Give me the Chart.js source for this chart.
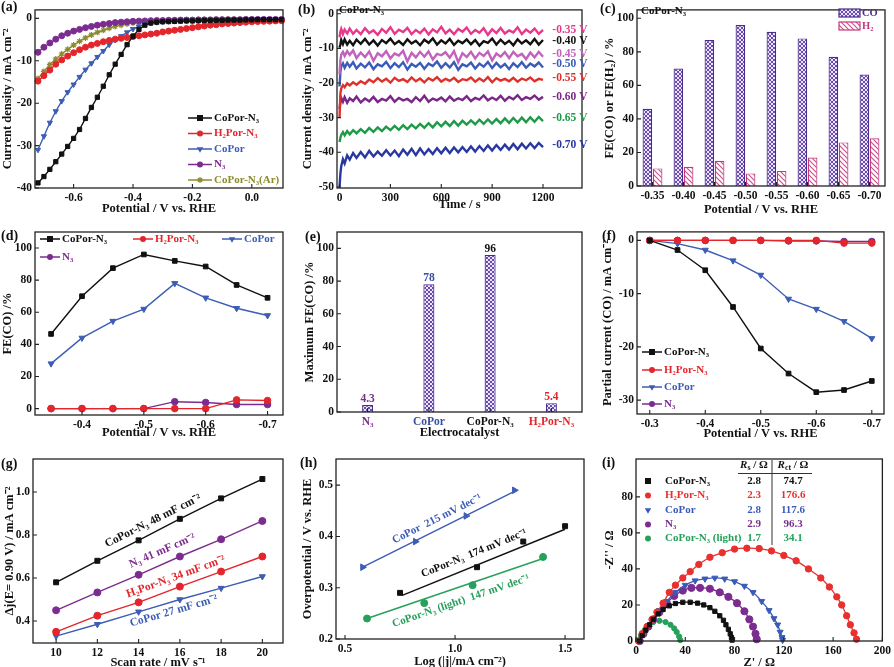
<!DOCTYPE html>
<html><head><meta charset="utf-8">
<script src="https://cdn.jsdelivr.net/npm/chart.js"></script>
<style>
html,body{margin:0;padding:0;background:#fff;}
body{width:894px;height:667px;overflow:hidden;position:relative;}
canvas{position:absolute;}
.pl{position:absolute;font:bold 14px 'Liberation Serif','Times New Roman',serif;color:#111;line-height:1;}
</style></head><body>
<canvas id="ca"></canvas><canvas id="cb"></canvas><canvas id="cc"></canvas>
<canvas id="cd"></canvas><canvas id="ce"></canvas><canvas id="cf"></canvas>
<canvas id="cg"></canvas><canvas id="ch"></canvas><canvas id="ci"></canvas>
<div class="pl" style="left:1px;top:0px">(a)</div>
<div class="pl" style="left:298px;top:3px">(b)</div>
<div class="pl" style="left:600px;top:2px">(c)</div>
<div class="pl" style="left:1px;top:229px">(d)</div>
<div class="pl" style="left:305px;top:230px">(e)</div>
<div class="pl" style="left:602px;top:229px">(f)</div>
<div class="pl" style="left:1px;top:457px">(g)</div>
<div class="pl" style="left:300px;top:456px">(h)</div>
<div class="pl" style="left:602px;top:456px">(i)</div>
<script>
// ======================= DATA =======================
// (a) LSV curves
const aPotential = [-0.72,-0.70,-0.68,-0.66,-0.64,-0.62,-0.60,-0.58,-0.56,-0.54,-0.52,-0.50,-0.48,-0.46,-0.44,-0.42,-0.40,-0.38,-0.36,-0.34,-0.32,-0.30,-0.28,-0.26,-0.24,-0.22,-0.20,-0.18,-0.16,-0.14,-0.12,-0.10,-0.08,-0.06,-0.04,-0.02,0.00,0.02,0.04,0.06,0.08,0.10];
const aCoPorN3 = [-38.8,-37.3,-35.6,-33.8,-32.0,-30.2,-28.3,-26.2,-23.6,-21.0,-18.6,-16.0,-13.3,-10.8,-8.5,-6.2,-4.2,-2.6,-1.6,-1.1,-0.9,-0.8,-0.75,-0.7,-0.65,-0.6,-0.6,-0.55,-0.5,-0.5,-0.45,-0.45,-0.4,-0.4,-0.4,-0.35,-0.35,-0.3,-0.3,-0.3,-0.3,-0.3];
const aH2PorN3 = [-14.8,-13.5,-12.2,-10.8,-9.8,-8.9,-8.1,-7.4,-6.8,-6.3,-5.9,-5.5,-5.2,-4.9,-4.7,-4.5,-4.3,-4.1,-3.9,-3.7,-3.5,-3.2,-3.0,-2.8,-2.6,-2.4,-2.2,-2.0,-1.8,-1.6,-1.5,-1.3,-1.2,-1.1,-1.0,-0.9,-0.8,-0.75,-0.7,-0.65,-0.6,-0.55];
const aCoPor = [-31.0,-27.8,-24.6,-21.9,-19.5,-17.4,-15.6,-13.8,-12.1,-10.6,-9.1,-7.7,-6.2,-5.1,-4.2,-3.3,-2.5,-1.9,-1.4,-1.1,-0.9,-0.8,-0.7,-0.65,-0.6,-0.55,-0.5,-0.5,-0.45,-0.45,-0.4,-0.4,-0.4,-0.35,-0.35,-0.35,-0.3,-0.3,-0.3,-0.3,-0.3,-0.3];
const aN3 = [-8.0,-6.8,-5.8,-4.9,-4.1,-3.5,-3.0,-2.6,-2.2,-1.9,-1.6,-1.4,-1.2,-1.0,-0.9,-0.8,-0.7,-0.65,-0.6,-0.55,-0.5,-0.5,-0.45,-0.45,-0.4,-0.4,-0.4,-0.35,-0.35,-0.35,-0.3,-0.3,-0.3,-0.3,-0.3,-0.25,-0.25,-0.25,-0.25,-0.25,-0.25,-0.25];
const aCoPorN3Ar = [-14.2,-12.5,-10.9,-9.6,-8.4,-7.3,-6.3,-5.4,-4.6,-3.9,-3.3,-2.8,-2.3,-1.9,-1.6,-1.3,-1.1,-0.9,-0.8,-0.7,-0.65,-0.6,-0.55,-0.5,-0.5,-0.45,-0.45,-0.4,-0.4,-0.4,-0.35,-0.35,-0.35,-0.3,-0.3,-0.3,-0.3,-0.3,-0.3,-0.3,-0.3,-0.3];
const aXTicks = [-0.6,-0.4,-0.2,0.0], aXLabels = ['-0.6','-0.4','-0.2','0.0'];
const aYTicks = [0,-10,-20,-30,-40], aYLabels = ['0','-10','-20','-30','-40'];

// (b) chronoamperometry of CoPor-N3
const bTime = [0,5,10,20,30,45,60,80,100,125,150,175,200,225,250,275,300,325,350,375,400,425,450,475,500,525,550,575,600,625,650,675,700,725,750,775,800,825,850,875,900,925,950,975,1000,1025,1050,1075,1100,1125,1150,1175,1200];
const bLabels = ['-0.35 V','-0.40 V','-0.45 V','-0.50 V','-0.55 V','-0.60 V','-0.65 V','-0.70 V'];
const bP35 = [-6.8,-5.2,-4.4,-5.9,-4.6,-5.7,-4.3,-5.8,-4.7,-5.9,-4.2,-5.6,-4.8,-6.1,-4.4,-5.5,-3.9,-5.8,-4.6,-5.3,-4.1,-5.9,-4.7,-5.6,-4.3,-6.0,-4.5,-5.4,-3.8,-5.7,-4.6,-5.9,-4.4,-5.2,-4.0,-5.8,-4.7,-5.5,-4.2,-6.1,-4.5,-5.6,-4.1,-5.7,-4.8,-5.4,-3.9,-5.9,-4.6,-5.5,-4.3,-5.8,-4.7];
const bP40 = [-9.8,-8.9,-7.6,-8.8,-7.4,-8.9,-7.8,-9.1,-7.5,-8.7,-7.3,-8.9,-7.7,-9.2,-7.6,-8.5,-7.2,-8.8,-7.9,-9.0,-7.4,-8.6,-7.8,-9.1,-7.5,-8.4,-7.1,-8.9,-7.7,-8.6,-7.3,-9.0,-7.8,-8.5,-7.4,-8.8,-7.6,-9.2,-7.9,-8.4,-7.2,-8.9,-7.5,-8.7,-7.8,-9.1,-7.4,-8.6,-7.7,-8.8,-7.3,-8.9,-7.6];
const bP45 = [-17.5,-13.5,-11.8,-11.0,-12.2,-10.8,-11.9,-10.6,-12.8,-11.2,-12.5,-10.9,-13.6,-11.4,-12.3,-10.8,-12.9,-11.5,-12.1,-10.7,-13.8,-11.3,-12.6,-11.0,-12.4,-10.9,-13.2,-11.6,-12.0,-11.1,-12.7,-10.8,-14.0,-11.4,-12.5,-11.0,-12.9,-11.3,-12.2,-10.9,-13.5,-11.5,-12.4,-11.1,-12.8,-11.0,-12.3,-11.6,-13.1,-11.2,-12.6,-11.0,-12.4];
const bP50 = [-21.0,-16.8,-15.2,-14.3,-15.6,-14.2,-15.3,-14.0,-15.8,-14.4,-15.5,-14.1,-16.0,-14.6,-15.2,-13.9,-15.7,-14.3,-15.4,-14.0,-16.1,-14.5,-15.3,-14.2,-15.9,-14.4,-15.1,-13.8,-15.6,-14.3,-15.5,-14.0,-16.2,-14.6,-15.2,-14.1,-15.8,-14.4,-15.3,-13.9,-15.7,-14.2,-15.5,-14.5,-16.0,-14.3,-15.4,-14.0,-15.6,-14.4,-15.2,-14.1,-15.5];
const bP55 = [-30.0,-23.0,-21.6,-20.6,-21.2,-20.1,-20.7,-19.8,-20.5,-19.5,-20.2,-19.0,-19.8,-18.6,-19.6,-18.8,-19.9,-18.5,-19.4,-18.9,-19.7,-18.4,-19.5,-18.7,-19.8,-18.6,-19.3,-18.3,-19.6,-18.8,-19.4,-18.5,-19.7,-18.9,-19.2,-18.4,-19.6,-18.7,-19.5,-18.3,-19.8,-18.6,-19.3,-18.8,-19.5,-18.5,-19.6,-18.7,-19.2,-18.4,-19.5,-18.8,-19.1];
const bP60 = [-27.5,-25.6,-24.3,-25.4,-24.1,-25.7,-24.4,-25.2,-23.9,-25.6,-24.5,-25.3,-24.0,-25.5,-24.6,-25.1,-23.8,-25.4,-24.3,-25.0,-24.6,-25.5,-24.1,-25.2,-23.7,-25.4,-24.5,-25.0,-24.2,-25.3,-23.9,-25.1,-24.4,-24.9,-23.8,-25.2,-24.3,-24.8,-23.6,-25.0,-24.2,-24.9,-23.7,-25.1,-24.0,-24.7,-23.5,-24.9,-24.1,-24.6,-23.6,-24.8,-24.0];
const bP65 = [-37.0,-35.8,-35.0,-34.2,-35.1,-33.9,-34.8,-33.6,-34.5,-33.3,-34.4,-33.0,-34.1,-32.8,-33.9,-32.6,-33.6,-32.4,-33.5,-32.2,-33.3,-32.0,-33.1,-31.8,-32.9,-31.6,-32.8,-31.3,-32.5,-31.2,-32.4,-31.0,-32.3,-30.9,-32.0,-30.8,-31.9,-30.6,-31.8,-30.5,-31.7,-30.4,-31.6,-30.2,-31.5,-30.1,-31.4,-30.0,-31.3,-29.9,-31.2,-29.8,-31.0];
const bP70 = [-50.0,-46.2,-44.0,-42.0,-43.2,-40.9,-42.1,-40.2,-41.6,-39.9,-41.5,-39.6,-41.2,-39.8,-41.0,-39.4,-40.9,-39.5,-41.1,-39.2,-40.7,-39.0,-40.8,-38.9,-40.6,-39.1,-40.5,-38.8,-40.3,-38.7,-40.2,-38.6,-40.0,-38.5,-39.9,-38.3,-39.8,-38.2,-39.6,-38.0,-39.5,-37.9,-39.3,-37.8,-39.2,-37.6,-39.1,-37.5,-38.9,-37.4,-38.8,-37.3,-38.5];
const bXTicks = [0,300,600,900,1200], bXLabels = ['0','300','600','900','1200'];
const bYTicks = [0,-10,-20,-30,-40,-50], bYLabels = ['0','-10','-20','-30','-40','-50'];

// (c) FE of CoPor-N3
const cPotentials = ['-0.35','-0.40','-0.45','-0.50','-0.55','-0.60','-0.65','-0.70'];
const cCO = [46, 70, 87, 96, 92, 88, 77, 66.5];
const cH2 = [10.5, 11.5, 15, 7.5, 9, 17, 26, 28.5];
const pctTicks = [0,20,40,60,80,100], pctLabels = ['0','20','40','60','80','100'];

// (d) FE(CO) vs potential
const dPotential = [-0.35,-0.40,-0.45,-0.50,-0.55,-0.60,-0.65,-0.70];
const dCoPorN3 = [46.5, 70, 87.5, 96, 92, 88.5, 77, 69];
const dH2PorN3 = [0, 0, 0, 0, 0, 0, 5.4, 5];
const dCoPor = [28, 44, 54.5, 62, 78, 69, 62.5, 58];
const dN3 = [0, 0, 0, 0, 4.3, 3.8, 2.5, 2.5];
const dXTicks = [-0.4,-0.5,-0.6,-0.7], dXLabels = ['-0.4','-0.5','-0.6','-0.7'];

// (e) maximum FE(CO)
const eCatalysts = ['N₃','CoPor','CoPor-N₃','H₂Por-N₃'];
const eMaxFE = [4.3, 78, 96, 5.4];
const eValueLabels = ['4.3','78','96','5.4'];

// (f) partial current density for CO
const fPotential = [-0.30,-0.35,-0.40,-0.45,-0.50,-0.55,-0.60,-0.65,-0.70];
const fCoPorN3 = [0, -1.8, -5.6, -12.5, -20.3, -25.0, -28.5, -28.1, -26.4];
const fH2PorN3 = [0, 0, 0, 0, 0, 0, 0, -0.5, -0.5];
const fCoPor = [0, -0.6, -1.8, -3.8, -6.5, -11.0, -12.9, -15.2, -18.4];
const fN3 = [0, 0, 0, 0, 0, -0.1, -0.1, -0.2, -0.2];
const fXTicks = [-0.3,-0.4,-0.5,-0.6,-0.7], fXLabels = ['-0.3','-0.4','-0.5','-0.6','-0.7'];
const fYTicks = [0,-10,-20,-30], fYLabels = ['0','-10','-20','-30'];

// (g) double-layer capacitance
const gScanRate = [10,12,14,16,18,20];
const gCoPorN3 = [0.58,0.68,0.775,0.875,0.97,1.06];
const gN3 = [0.45,0.533,0.615,0.70,0.78,0.865];
const gH2PorN3 = [0.35,0.425,0.487,0.56,0.63,0.70];
const gCoPor = [0.33,0.385,0.443,0.50,0.553,0.607];
const gCdl = [48, 41, 34, 27];
const gXTicks = [10,12,14,16,18,20], gXLabels = ['10','12','14','16','18','20'];
const gYTicks = [0.4,0.6,0.8,1.0], gYLabels = ['0.4','0.6','0.8','1.0'];

// (h) Tafel plots
const hCoPorX = [0.58, 0.82, 1.05, 1.27], hCoPorY = [0.34, 0.39, 0.44, 0.49];
const hCoPorN3X = [0.75, 1.10, 1.31, 1.50], hCoPorN3Y = [0.29, 0.34, 0.39, 0.42];
const hLightX = [0.60, 0.86, 1.08, 1.40], hLightY = [0.24, 0.27, 0.305, 0.36];
const hCoPorFitX = [0.58, 1.27], hCoPorFitY = [0.34, 0.488];
const hCoPorN3FitX = [0.76, 1.50], hCoPorN3FitY = [0.285, 0.414];
const hLightFitX = [0.60, 1.40], hLightFitY = [0.24, 0.357];
const hSlopes = [215, 174, 147];
const hXTicks = [0.5,1.0,1.5], hXLabels = ['0.5','1.0','1.5'];
const hYTicks = [0.2,0.3,0.4,0.5], hYLabels = ['0.2','0.3','0.4','0.5'];

// (i) Nyquist plots
const iCoPorN3Re = [3,5,8,11,14,18,22,27,32,38,44,50,55,60,64,68,71,73,75,76.5,77.5,78];
const iCoPorN3Im = [0,3,6,9,12,15,17.5,19.5,20.8,21.5,21.5,21,20,18.5,16.5,14,11.5,9,6.5,4,2,0.5];
const iH2PorN3Re = [2,5,9,13,17,22,27,32,38,44,51,60,70,80,90,100,110,120,130,140,150,157,163,167,171,174,177,179];
const iH2PorN3Im = [0,4,8,12,16,21,27,31,35,38.5,42.5,46.5,49,51,51.5,51.3,50,47.5,44.5,40,35,30,24.5,20,14,9,4.5,1];
const iCoPorRe = [3,6,10,14,19,25,32,40,48,56,64,72,80,88,95,102,108,112,115,117,118.5,119];
const iCoPorIm = [0,4,8,12,17,22,27,31,33.5,34.5,35,34.5,33,30.5,27,22,17,12.5,9,5,2,0.5];
const iN3Re = [3,6,10,14,19,25,31,38,45,52,60,68,75,82,88,92,95,97,98];
const iN3Im = [0,4,8,12,16,21,25,28,29.5,29.5,29,27,24.5,21,16.5,12,8,4,1];
const iLightRe = [2,4,7,10,14,19,24,28,31,33,35,36];
const iLightIm = [0,3,6,8.5,10.5,11.2,10.5,9,7,5,2.5,0.5];
const iNames = ['CoPor-N₃','H₂Por-N₃','CoPor','N₃','CoPor-N₃ (light)'];
const iRs = ['2.8','2.3','2.8','2.9','1.7'];
const iRct = ['74.7','176.6','117.6','96.3','34.1'];
const iXTicks = [0,40,80,120,160,200], iXLabels = ['0','40','80','120','160','200'];
const iYTicks = [0,20,40,60,80], iYLabels = ['0','20','40','60','80'];

// ======================= STYLE / HELPERS =======================
const FONT = "'Liberation Serif','Times New Roman',serif";
const BLACK='#111', RED='#e3262b', BLUE='#3c5db5', PURPLE='#7b2d8f', OLIVE='#8c8c2c', GREEN='#26a05a';
const TICK = 11.5, TITLE = 12.5;
const fnt = (sz, st) => `${st||''} bold ${sz}px ${FONT}`;

function mk(ctx, style, x, y, r, color, rot){
  ctx.save(); ctx.fillStyle=color; ctx.strokeStyle=color; ctx.lineWidth=1.1; ctx.beginPath();
  if(style==='rect') ctx.rect(x-r,y-r,2*r,2*r);
  else if(style==='circle') ctx.arc(x,y,r,0,Math.PI*2);
  else if(style==='triangle'){ const a=(rot||0)*Math.PI/180; for(let k=0;k<3;k++){const t=a-Math.PI/2+k*2*Math.PI/3; const px=x+r*1.25*Math.cos(t), py=y+r*1.25*Math.sin(t); k?ctx.lineTo(px,py):ctx.moveTo(px,py);} ctx.closePath(); }
  else if(style==='star'){ for(let k=0;k<4;k++){const t=k*Math.PI/4; ctx.moveTo(x+r*Math.cos(t),y+r*Math.sin(t)); ctx.lineTo(x-r*Math.cos(t),y-r*Math.sin(t));} ctx.stroke(); ctx.restore(); return; }
  ctx.fill(); ctx.restore();
}
function legRow(ctx, x0, x1, y, color, style, rot, text, r){
  ctx.save(); ctx.strokeStyle=color; ctx.lineWidth=1.5;
  ctx.beginPath(); ctx.moveTo(x0,y); ctx.lineTo(x1,y); ctx.stroke();
  mk(ctx, style, (x0+x1)/2, y, r||3, color, rot);
  ctx.font=fnt(11); ctx.fillStyle=color; ctx.textAlign='left'; ctx.textBaseline='middle';
  ctx.fillText(text, x1+2, y); ctx.restore();
}
function txt(ctx, s, x, y, color, size, align, rot){
  ctx.save(); ctx.translate(x,y); if(rot) ctx.rotate(rot);
  ctx.font=fnt(size||11); ctx.fillStyle=color; ctx.textAlign=align||'left'; ctx.textBaseline='middle';
  ctx.fillText(s,0,0); ctx.restore();
}
function runs(ctx, parts, x, y, size, color, align){
  const fs = parts.map(p => p[1]==='s' ? fnt(size*0.72) : p[1]==='i' ? fnt(size,'italic') : fnt(size));
  let w=0; parts.forEach((p,k)=>{ctx.font=fs[k]; w+=ctx.measureText(p[0]).width;});
  let cx = align==='center' ? x-w/2 : x;
  ctx.save(); ctx.fillStyle=color; ctx.textBaseline='middle'; ctx.textAlign='left';
  parts.forEach((p,k)=>{ctx.font=fs[k]; ctx.fillText(p[0], cx, y+(p[1]==='s'?size*0.3:0)); cx+=ctx.measureText(p[0]).width;});
  ctx.restore();
}
function frame(c){
  const a=c.chartArea, ctx=c.ctx, xs=c.scales.x, ys=c.scales.y;
  ctx.save(); ctx.strokeStyle='#222'; ctx.lineWidth=1.3;
  ctx.strokeRect(a.left, a.top, a.right-a.left, a.bottom-a.top);
  ctx.lineWidth=1.1; ctx.beginPath();
  xs.ticks.forEach((t,i)=>{const p=xs.getPixelForTick(i); ctx.moveTo(p,a.bottom); ctx.lineTo(p,a.bottom-4);});
  ys.ticks.forEach((t,i)=>{const p=ys.getPixelForTick(i); ctx.moveTo(a.left,p); ctx.lineTo(a.left+4,p);});
  ctx.stroke(); ctx.restore();
}
const tickFont = {family:FONT, size:TICK, weight:'bold'};
const titleFont = {family:FONT, size:TITLE, weight:'bold'};
function linAxis(min, max, vals, labels, title, rev){
  return {type:'linear', min, max, reverse:!!rev,
    afterBuildTicks: s => { s.ticks = vals.map(v => ({value:v})); },
    ticks:{callback:(v,i)=>labels[i], font:tickFont, color:BLACK, padding:3, maxRotation:0, autoSkip:false},
    grid:{display:false, drawTicks:false}, border:{display:false},
    title:{display:true, text:title, font:titleFont, color:BLACK, padding:0}};
}
function catAxis(title, colors){
  return {type:'category', offset:true,
    ticks:{font:tickFont, color:colors||BLACK, padding:3, maxRotation:0, autoSkip:false},
    grid:{display:false, drawTicks:false}, border:{display:false},
    title:{display:true, text:title, font:titleFont, color:BLACK, padding:0}};
}
function ser(label, xs, ys, color, style, extra){
  return Object.assign({label, data: xs.map((x,i)=>({x, y:ys[i]})), borderColor:color, backgroundColor:color,
    pointBackgroundColor:color, pointBorderColor:color, pointStyle:style, pointRadius:3, pointBorderWidth:1,
    borderWidth:1.4, tension:0, clip:8}, extra||{});
}
function makeChart(id, g, type, data, xs, ys, draw){
  const cv=document.getElementById(id);
  cv.width=g.w; cv.height=g.h; cv.style.left=g.x+'px'; cv.style.top=g.y+'px';
  const hl=TITLE*1.2/2;
  const padL=g.yt-g.x-hl, padB=g.y+g.h-g.xt-hl;
  ys.afterFit = s => { s.width = g.L-g.x-padL; };
  xs.afterFit = s => { s.height = g.y+g.h-padB-g.B; };
  const P = (px,py)=>[px-g.x, py-g.y];
  return new Chart(cv, {type, data, options:{
      responsive:false, animation:false, devicePixelRatio:1,
      layout:{padding:{left:padL, top:g.T-g.y, right:g.x+g.w-g.R, bottom:padB}},
      plugins:{legend:{display:false}, tooltip:{enabled:false}},
      scales:{x:xs, y:ys}},
    plugins:[{id:'decor', afterDraw(c){ frame(c); if(draw) draw(c, c.ctx, P); }}]});
}
function hatchCO(){
  const t=document.createElement('canvas'); t.width=4; t.height=4; const x=t.getContext('2d');
  x.fillStyle='#ece4fa'; x.fillRect(0,0,4,4); x.strokeStyle='#6a4bb0'; x.lineWidth=1;
  x.beginPath(); x.moveTo(0,0); x.lineTo(4,4); x.moveTo(4,0); x.lineTo(0,4); x.stroke();
  return x.createPattern(t,'repeat');
}
function hatchH2(){
  const t=document.createElement('canvas'); t.width=5; t.height=5; const x=t.getContext('2d');
  x.fillStyle='#fff'; x.fillRect(0,0,5,5); x.strokeStyle='#d0508c'; x.lineWidth=1.2;
  x.beginPath(); x.moveTo(0,0); x.lineTo(5,5); x.moveTo(-1,4); x.lineTo(1,6); x.moveTo(4,-1); x.lineTo(6,1); x.stroke();
  return x.createPattern(t,'repeat');
}
const PAT_CO = hatchCO(), PAT_H2 = hatchH2();
const CO_EDGE='#4a2c8a', H2_EDGE='#c03a7e';

// ======================= PANELS =======================
// (a)
makeChart('ca', {x:0,y:0,w:298,h:222,L:35,T:3,R:283,B:188,yt:8,xt:209}, 'line', {datasets:[
  ser('CoPor-N₃', aPotential, aCoPorN3, BLACK, 'rect'),
  ser('H₂Por-N₃', aPotential, aH2PorN3, RED, 'circle'),
  ser('CoPor', aPotential, aCoPor, BLUE, 'triangle', {pointRotation:180}),
  ser('N₃', aPotential, aN3, PURPLE, 'circle'),
  ser('CoPor-N₃(Ar)', aPotential, aCoPorN3Ar, OLIVE, 'star', {pointBorderWidth:1.2})
]}, linAxis(-0.73, 0.105, aXTicks, aXLabels, 'Potential / V vs. RHE'),
   linAxis(-40, 2, aYTicks, aYLabels, 'Current density / mA cm⁻²'),
(c, ctx, P) => {
  const rows=[[BLACK,'rect',0],[RED,'circle',0],[BLUE,'triangle',180],[PURPLE,'circle',0],[OLIVE,'star',0]];
  c.data.datasets.forEach((d,k)=>{ const [x0,y]=P(188,118+k*15.5); legRow(ctx,x0,x0+24,y,rows[k][0],rows[k][1],rows[k][2],d.label); });
});

// (b)
const bColors = ['#e8378c','#111','#c262bd','#3a5cb8','#e0302a','#7a2888','#1f9a48','#2838a0'];
const bSeries = [bP35,bP40,bP45,bP50,bP55,bP60,bP65,bP70];
makeChart('cb', {x:295,y:0,w:299,h:222,L:337,T:3,R:582,B:188,yt:308,xt:205}, 'line', {
  datasets: bSeries.map((s,k)=>ser(bLabels[k], bTime, s, bColors[k], 'circle', {pointRadius:0, borderWidth:2.4}))
}, linAxis(-15, 1430, bXTicks, bXLabels, 'Time / s'),
   linAxis(-50.3, 1.1, bYTicks, bYLabels, 'Current density / mA cm⁻²'),
(c, ctx, P) => {
  const [tx,ty]=P(339,10); txt(ctx,'CoPor-N₃',tx,ty,BLACK,11);
  bSeries.forEach((s,k)=>{ const tail=s.slice(-6); const m=tail.reduce((a,b)=>a+b,0)/tail.length;
    txt(ctx, bLabels[k], c.scales.x.getPixelForValue(1255), c.scales.y.getPixelForValue(m)-1, bColors[k], 11.5); });
});

// (c)
makeChart('cc', {x:594,y:0,w:300,h:222,L:637,T:3,R:885,B:186,yt:610,xt:210}, 'bar', {labels:cPotentials, datasets:[
  {label:'CO', data:cCO, backgroundColor:PAT_CO, borderColor:CO_EDGE, borderWidth:1.2, categoryPercentage:0.66, barPercentage:0.94},
  {label:'H₂', data:cH2, backgroundColor:PAT_H2, borderColor:H2_EDGE, borderWidth:1.2, categoryPercentage:0.66, barPercentage:0.94}
]}, catAxis('Potential / V vs. RHE'),
   linAxis(0, 105, pctTicks, pctLabels, 'FE(CO) or FE(H₂) / %'),
(c, ctx, P) => {
  const [tx,ty]=P(641,11); txt(ctx,'CoPor-N₃',tx,ty,BLACK,11);
  const items=[[PAT_CO,CO_EDGE,c.data.datasets[0].label,'#4a2c8a'],[PAT_H2,H2_EDGE,c.data.datasets[1].label,'#c03a7e']];
  items.forEach((it,k)=>{ const [bx,by]=P(839,9+k*13);
    ctx.save(); ctx.fillStyle=it[0]; ctx.fillRect(bx,by,21,8); ctx.strokeStyle=it[1]; ctx.lineWidth=1.2; ctx.strokeRect(bx,by,21,8); ctx.restore();
    txt(ctx,it[2],bx+23,by+4,it[3],10.5); });
});

// (d)
makeChart('cd', {x:0,y:222,w:298,h:222,L:35,T:232,R:283,B:415,yt:8,xt:433}, 'line', {datasets:[
  ser('CoPor-N₃', dPotential, dCoPorN3, BLACK, 'rect', {pointRadius:3.3}),
  ser('H₂Por-N₃', dPotential, dH2PorN3, RED, 'circle', {pointRadius:3.3}),
  ser('CoPor', dPotential, dCoPor, BLUE, 'triangle', {pointRotation:180, pointRadius:3.5}),
  ser('N₃', dPotential, dN3, PURPLE, 'circle', {pointRadius:3.3})
]}, linAxis(-0.725, -0.324, dXTicks, dXLabels, 'Potential / V vs. RHE', true),
   linAxis(-4, 110, pctTicks, pctLabels, 'FE(CO) /%'),
(c, ctx, P) => {
  const ds=c.data.datasets;
  const pos=[[40,239,BLACK,'rect',0],[133,239,RED,'circle',0],[222,239,BLUE,'triangle',180],[40,257,PURPLE,'circle',0]];
  pos.forEach((p,k)=>{ const [x0,y]=P(p[0],p[1]); legRow(ctx,x0,x0+20,y,p[2],p[3],p[4],ds[k].label); });
});

// (e)
const eColors = [PURPLE, '#3a4ea0', BLACK, RED];
makeChart('ce', {x:295,y:222,w:299,h:222,L:337,T:232,R:582,B:412,yt:310,xt:433}, 'bar', {labels:eCatalysts, datasets:[
  {label:'Maximum FE(CO)', data:eMaxFE, backgroundColor:PAT_CO, borderColor:CO_EDGE, borderWidth:1.2, categoryPercentage:0.18, barPercentage:1.0}
]}, catAxis('Electrocatalyst', eColors),
   linAxis(0, 110, pctTicks, pctLabels, 'Maximum FE(CO) /%'),
(c, ctx) => {
  c.getDatasetMeta(0).data.forEach((b,i)=>{ txt(ctx, eValueLabels[i], b.x, b.y-6, eColors[i], 11.5, 'center'); });
});

// (f)
makeChart('cf', {x:594,y:222,w:300,h:222,L:637,T:227,R:884,B:414,yt:608,xt:434}, 'line', {datasets:[
  ser('CoPor-N₃', fPotential, fCoPorN3, BLACK, 'rect', {pointRadius:3.3}),
  ser('H₂Por-N₃', fPotential, fH2PorN3, RED, 'circle', {pointRadius:3.3}),
  ser('CoPor', fPotential, fCoPor, BLUE, 'triangle', {pointRotation:180, pointRadius:3.5}),
  ser('N₃', fPotential, fN3, PURPLE, 'circle', {pointRadius:3.3})
]}, linAxis(-0.722, -0.277, fXTicks, fXLabels, 'Potential / V vs. RHE', true),
   linAxis(-32.6, 1.6, fYTicks, fYLabels, 'Partial current (CO) / mA cm⁻²'),
(c, ctx, P) => {
  const ds=c.data.datasets, st=[[BLACK,'rect',0],[RED,'circle',0],[BLUE,'triangle',180],[PURPLE,'circle',0]];
  const ys=[352,370,387,404];
  st.forEach((s,k)=>{ const [x0,y]=P(642,ys[k]); legRow(ctx,x0,x0+20,y,s[0],s[1],s[2],ds[k].label); });
});

// (g)
const gSeries=[gCoPorN3,gN3,gH2PorN3,gCoPor], gNames=['CoPor-N₃','N₃','H₂Por-N₃','CoPor'];
const gColors=[BLACK,PURPLE,RED,BLUE], gStyles=[['rect',0],['circle',0],['circle',0],['triangle',180]];
makeChart('cg', {x:0,y:444,w:298,h:232,L:33,T:459,R:283,B:643,yt:10,xt:663}, 'line', {
  datasets: gSeries.map((s,k)=>ser(gNames[k], gScanRate, s, gColors[k], gStyles[k][0], {pointRotation:gStyles[k][1], pointRadius:3.5}))
}, linAxis(8.88, 21.0, gXTicks, gXLabels, 'Scan rate / mV s⁻¹'),
   linAxis(0.298, 1.153, gYTicks, gYLabels, 'Δj(E= 0.90 V) / mA cm⁻²'),
(c, ctx) => {
  const xs=c.scales.x, ys=c.scales.y;
  const anchors=[[14.7,0.865],[15.15,0.726],[15.8,0.605],[15.7,0.446]];
  gSeries.forEach((s,k)=>{
    const ang=Math.atan2(ys.getPixelForValue(s[5])-ys.getPixelForValue(s[0]), xs.getPixelForValue(20)-xs.getPixelForValue(10));
    txt(ctx, `${gNames[k]} ${gCdl[k]} mF cm⁻²`, xs.getPixelForValue(anchors[k][0]), ys.getPixelForValue(anchors[k][1]), gColors[k], 11.5, 'center', ang);
  });
});

// (h)
const hColors=[BLUE, BLACK, GREEN];
makeChart('ch', {x:295,y:444,w:299,h:232,L:336,T:459,R:584,B:639,yt:308,xt:662}, 'line', {datasets:[
  ser('CoPor fit', hCoPorFitX, hCoPorFitY, BLUE, 'circle', {pointRadius:0}),
  ser('CoPor-N₃ fit', hCoPorN3FitX, hCoPorN3FitY, BLACK, 'circle', {pointRadius:0}),
  ser('CoPor-N₃ (light) fit', hLightFitX, hLightFitY, GREEN, 'circle', {pointRadius:0}),
  ser('CoPor', hCoPorX, hCoPorY, BLUE, 'triangle', {showLine:false, pointRotation:90, pointRadius:3.8}),
  ser('CoPor-N₃', hCoPorN3X, hCoPorN3Y, BLACK, 'rect', {showLine:false, pointRadius:3.5}),
  ser('CoPor-N₃ (light)', hLightX, hLightY, GREEN, 'circle', {showLine:false, pointRadius:3.5})
]}, linAxis(0.459, 1.586, hXTicks, hXLabels, 'Log (|j|/mA cm⁻²)'),
   linAxis(0.2, 0.551, hYTicks, hYLabels, 'Overpotential / V vs. RHE'),
(c, ctx) => {
  const xs=c.scales.x, ys=c.scales.y;
  const fits=[[hCoPorFitX,hCoPorFitY],[hCoPorN3FitX,hCoPorN3FitY],[hLightFitX,hLightFitY]];
  const names=['CoPor','CoPor-N₃','CoPor-N₃ (light)'];
  const anchors=[[0.918,0.434],[1.086,0.367],[1.027,0.274]];
  fits.forEach((f,k)=>{
    const ang=Math.atan2(ys.getPixelForValue(f[1][1])-ys.getPixelForValue(f[1][0]), xs.getPixelForValue(f[0][1])-xs.getPixelForValue(f[0][0]));
    txt(ctx, `${names[k]}  ${hSlopes[k]} mV dec⁻¹`, xs.getPixelForValue(anchors[k][0]), ys.getPixelForValue(anchors[k][1]), hColors[k], 11, 'center', ang);
  });
});

// (i)
const iColors=[BLACK,'#e8302f','#3a5ab8',PURPLE,GREEN];
const iStyles=[['rect',0,3],['circle',0,3.2],['triangle',180,3.5],['circle',0,3.6],['circle',0,2.6]];
const iRe=[iCoPorN3Re,iH2PorN3Re,iCoPorRe,iN3Re,iLightRe], iIm=[iCoPorN3Im,iH2PorN3Im,iCoPorIm,iN3Im,iLightIm];
makeChart('ci', {x:594,y:444,w:300,h:232,L:636,T:459,R:885,B:641,yt:610,xt:663}, 'line', {
  datasets: iRe.map((re,k)=>ser(iNames[k], re, iIm[k], iColors[k], iStyles[k][0], {pointRotation:iStyles[k][1], pointRadius:iStyles[k][2], tension:0.35, borderWidth:1.3}))
}, linAxis(0, 200, iXTicks, iXLabels, "Z' / Ω"),
   linAxis(0, 101, iYTicks, iYLabels, "-Z'' / Ω"),
(c, ctx, P) => {
  const ys=[481,495.5,510,524.5,538.5];
  iNames.forEach((n,k)=>{ const [mx,y]=P(648,ys[k]);
    mk(ctx, iStyles[k][0], mx, y, 3, iColors[k], iStyles[k][1]);
    txt(ctx, n, mx+17, y, iColors[k], 11);
    const [c1]=P(754,0), [c2]=P(793,0);
    txt(ctx, iRs[k], c1, y, iColors[k], 11, 'center');
    txt(ctx, iRct[k], c2, y, iColors[k], 11, 'center');
  });
  const [h1,hy]=P(754,465), [h2]=P(793,0);
  runs(ctx, [['R','i'],['s','s'],[' / Ω','']], h1, hy, 11, BLACK, 'center');
  runs(ctx, [['R','i'],['ct','s'],[' / Ω','']], h2, hy, 11, BLACK, 'center');
  const [lx0,ly]=P(738,473.5), [lx1]=P(812,0), [vx,vy0]=P(772,460), [,vy1]=P(0,545);
  ctx.save(); ctx.strokeStyle='#333'; ctx.lineWidth=1; ctx.beginPath();
  ctx.moveTo(lx0,ly); ctx.lineTo(lx1,ly); ctx.moveTo(vx,vy0); ctx.lineTo(vx,vy1); ctx.stroke(); ctx.restore();
});
</script>
</body></html>
